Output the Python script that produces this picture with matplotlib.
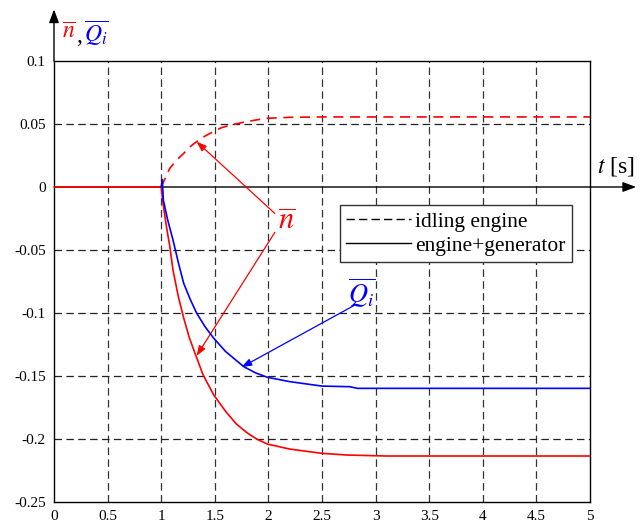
import matplotlib
matplotlib.use("Agg")
import matplotlib.pyplot as plt
import numpy as np

plt.rcParams['font.family'] = ['Liberation Serif', 'DejaVu Serif']
plt.rcParams['mathtext.fontset'] = 'stix'

# Data
t_pre = [0.0, 1.0]
v_pre = [0.0, 0.0]

t_idle = [1.0, 1.04, 1.08, 1.14, 1.21, 1.27, 1.33, 1.41, 1.49, 1.56, 1.64, 1.8, 1.98, 2.2, 2.5, 3.0, 4.0, 5.0]
n_idle = [0.0, 0.0075, 0.0148, 0.021, 0.0267, 0.032, 0.036, 0.0405, 0.044, 0.047, 0.049, 0.052, 0.0545, 0.0553, 0.0556, 0.0556, 0.0556, 0.0556]

t_gen = [1.0, 1.02, 1.05, 1.08, 1.11, 1.16, 1.21, 1.26, 1.32, 1.39, 1.49, 1.6, 1.7, 1.8, 1.89, 1.99, 2.2, 2.5, 2.73, 3.1, 4.0, 5.0]
n_gen = [0.0, -0.015, -0.032, -0.047, -0.066, -0.087, -0.104, -0.119, -0.133, -0.149, -0.165, -0.178, -0.188, -0.195, -0.2, -0.204, -0.208, -0.2114, -0.2127, -0.2135, -0.2135, -0.2135]

t_q = [1.0, 1.01, 1.02, 1.06, 1.11, 1.16, 1.21, 1.27, 1.33, 1.41, 1.49, 1.6, 1.77, 1.88, 1.99, 2.2, 2.5, 2.76, 2.83, 3.0, 4.0, 5.0]
q_gen = [0.0, 0.006, -0.0103, -0.026, -0.042, -0.06, -0.0765, -0.089, -0.1, -0.111, -0.12, -0.1305, -0.1426, -0.1475, -0.151, -0.1545, -0.158, -0.1585, -0.1598, -0.1598, -0.1598, -0.1598]

xticks = [0, 0.5, 1, 1.5, 2, 2.5, 3, 3.5, 4, 4.5, 5]
xtick_labels = ['0', '0.5', '1', '1.5', '2', '2.5', '3', '3.5', '4', '4.5', '5']
yticks = [-0.25, -0.2, -0.15, -0.1, -0.05, 0, 0.05, 0.1]
ytick_labels = ['-0.25', '-0.2', '-0.15', '-0.1', '-0.05', '0', '0.05', '0.1']

fig = plt.figure(figsize=(6.4, 5.25), dpi=100)
ax = fig.add_axes([54/640, 1-502/525, 536/640, 441/525])
ax.set_xlim(0, 5)
ax.set_ylim(-0.25, 0.1)

# grid
dash = (0, (6, 3.5))
for x in xticks[1:-1]:
    ax.plot([x, x], [-0.25, 0.1], color='#333333', lw=0.9, ls=dash, zorder=1)
for y in yticks[1:-1]:
    if y == 0:
        continue
    ax.plot([0, 5], [y, y], color='#222222', lw=0.9, ls=dash, zorder=1)

for s in ['top', 'right', 'bottom', 'left']:
    ax.spines[s].set_linewidth(1.0)

ax.set_xticks(xticks)
ax.set_xticklabels(xtick_labels)
ax.set_yticks(yticks)
ax.set_yticklabels(ytick_labels)
ax.tick_params(length=0, labelsize=11, pad=6)

# zero axis with arrow
ax.annotate('', xy=(5.43, 0), xytext=(0, 0), xycoords='data',
            arrowprops=dict(arrowstyle='-|>,head_length=0.8,head_width=0.3', color='black', lw=1.0,
                            shrinkA=0, shrinkB=0), annotation_clip=False, zorder=2)
# vertical axis arrow
ax.annotate('', xy=(0, 1.117), xytext=(0, 1.0), xycoords='axes fraction',
            arrowprops=dict(arrowstyle='-|>,head_length=0.8,head_width=0.3', color='black', lw=1.0,
                            shrinkA=0, shrinkB=0), annotation_clip=False)

# curves
ax.plot(t_pre, v_pre, color='red', lw=1.2, zorder=4)
ax.plot(t_idle, n_idle, color='red', lw=1.2, ls=(0, (6, 4)), zorder=4)
ax.plot(t_gen, n_gen, color='red', lw=1.2, zorder=4)
ax.plot(t_q, q_gen, color='blue', lw=1.2, zorder=4)

# legend
lh1, = ax.plot([], [], color='black', lw=1.0, ls=(0, (6, 3)))
lh2, = ax.plot([], [], color='black', lw=1.0)
leg = ax.legend([lh1, lh2], ['idling engine', 'engine+generator'], loc='upper left',
                bbox_to_anchor=(286/536, (502-205)/441), fontsize=15.5, frameon=True, fancybox=False,
                edgecolor='#333333', framealpha=1, handlelength=3.0, handletextpad=0.2,
                borderpad=0.3, labelspacing=0.2, borderaxespad=0)
leg.get_frame().set_linewidth(1.0)

# annotations
ax.text(2.17, -0.028, r'$\overline{n}$', color='red', fontsize=22, ha='center', va='center')
ax.annotate('', xy=(1.33, 0.036), xytext=(2.06, -0.021),
            arrowprops=dict(arrowstyle='-|>,head_length=0.6,head_width=0.22', color='red', lw=0.9,
                            shrinkA=0, shrinkB=0))
ax.annotate('', xy=(1.33, -0.134), xytext=(2.06, -0.036),
            arrowprops=dict(arrowstyle='-|>,head_length=0.6,head_width=0.22', color='red', lw=0.9,
                            shrinkA=0, shrinkB=0))
ax.text(2.87, -0.084, r'$\overline{Q_i}$', color='blue', fontsize=19, ha='center', va='center')
ax.annotate('', xy=(1.75, -0.143), xytext=(2.8, -0.094),
            arrowprops=dict(arrowstyle='-|>,head_length=0.6,head_width=0.22', color='blue', lw=0.9,
                            shrinkA=0, shrinkB=0))

# axis labels
fig.text(597/640, 1-167/525, r'$t$ [s]', fontsize=17, ha='left', va='center')
fig.text(62/640, 1-33/525, r'$\overline{n}$', color='red', fontsize=17, ha='left', va='center')
fig.text(76/640, 1-36/525, r',', color='black', fontsize=17, ha='left', va='center')
fig.text(84/640, 1-33/525, r'$\overline{Q_i}$', color='blue', fontsize=17, ha='left', va='center')

fig.savefig('out.png', dpi=100)
